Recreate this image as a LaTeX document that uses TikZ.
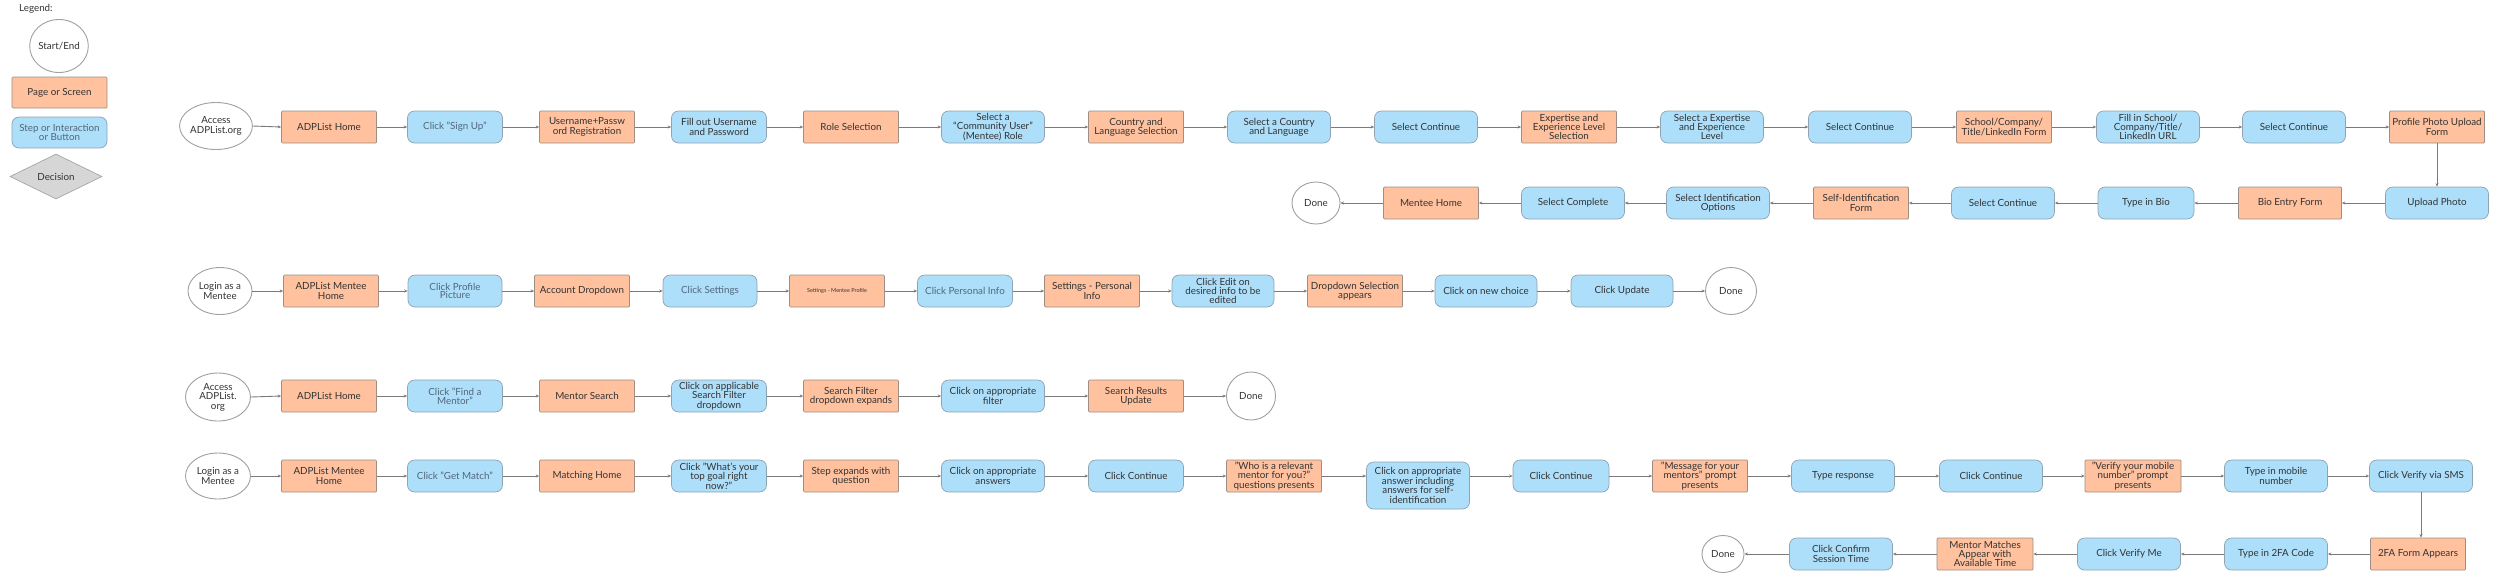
\documentclass[tikz,border=0pt]{standalone}
\usepackage{fontspec}
\setmainfont{Lato}
\usetikzlibrary{shapes.geometric,arrows.meta}
\definecolor{pagef}{HTML}{FFC19E}
\definecolor{pageb}{HTML}{9E8E84}
\definecolor{stepf}{HTML}{ADDEFA}
\definecolor{stepb}{HTML}{8FA3B1}
\definecolor{termb}{HTML}{A0A0A0}
\definecolor{decf}{HTML}{D6D6D6}
\definecolor{decb}{HTML}{A5A5A5}
\definecolor{linkc}{HTML}{7A7A7A}
\definecolor{txt}{HTML}{333333}
\definecolor{ltxt}{HTML}{52677A}
\tikzset{
  every node/.style={font=\fontsize{9.8}{9.4}\selectfont, text=txt, align=center, inner sep=0pt},
  page/.style={draw=pageb, fill=pagef, rounded corners=1pt, minimum height=32, minimum width=95, line width=0.7},
  stepbox/.style={draw=stepb, fill=stepf, rounded corners=7pt, minimum height=32, minimum width=103, line width=0.7},
  term/.style={ellipse, draw=termb, fill=white, line width=0.9, minimum width=66, minimum height=47},
  done/.style={ellipse, draw=termb, fill=white, line width=0.9, minimum width=50, minimum height=45},
  dec/.style={diamond, draw=decb, fill=decf, line width=0.7, minimum width=92, minimum height=45, aspect=2},
  lt/.style={text=ltxt},
  link/.style={draw=linkc, line width=0.9, -{Stealth[length=3.5pt, width=3pt]}}
}
\begin{document}
\begin{tikzpicture}[x=1pt, y=-1pt]
\useasboundingbox (0,0) rectangle (2500,579);
% legend
\node[anchor=west] (leg) at (19,9) {Legend:};
\node[term, minimum width=56, minimum height=53] (lstart) at (59,46) {Start/End};
\node[page, minimum height=31] (lpage) at (59.5,92.5) {Page or Screen};
\node[stepbox, lt, minimum width=95, minimum height=31] (lstep) at (59.5,132.5) {Step or Interaction\\or Button};
\node[dec] (ldec) at (56,176.5) {Decision};

% row 1
\node[term, minimum width=68] (a1) at (216,126) {Access\\ADPList.org};
\node[page] (a2) at (329,127) {ADPList Home};
\node[stepbox, lt, minimum width=95] (a3) at (455,127) {Click "Sign Up"};
\node[page] (a4) at (587,127) {Username+Passw\\ord Registration};
\node[stepbox, minimum width=95] (a5) at (719,127) {Fill out Username\\and Password};
\node[page] (a6) at (851,127) {Role Selection};
\node[stepbox] (a7) at (993,127) {Select a\\``Community User''\\(Mentee) Role};
\node[page] (a8) at (1136,127) {Country and\\Language Selection};
\node[stepbox] (a9) at (1279,127) {Select a Country\\and Language};
\node[stepbox] (a10) at (1426,127) {Select Continue};
\node[page] (a11) at (1569,127) {Expertise and\\Experience Level\\Selection};
\node[stepbox] (a12) at (1712,127) {Select a Expertise\\and Experience\\Level};
\node[stepbox] (a13) at (1860,127) {Select Continue};
\node[page] (a14) at (2004,127) {School/Company/\\Title/LinkedIn Form};
\node[stepbox] (a15) at (2148,127) {Fill in School/\\Company/Title/\\LinkedIn URL};
\node[stepbox] (a16) at (2294,127) {Select Continue};
\node[page] (a17) at (2437,127) {Profile Photo Upload\\Form};
\foreach \i/\j in {a1/a2,a2/a3,a3/a4,a4/a5,a5/a6,a6/a7,a7/a8,a8/a9,a9/a10,a10/a11,a11/a12,a12/a13,a13/a14,a14/a15,a15/a16,a16/a17}
  \draw[link] (\i.east) -- (\j.west);

% row 2
\node[stepbox] (b1) at (2437,203) {Upload Photo};
\node[page, minimum width=103] (b2) at (2290,203) {Bio Entry Form};
\node[stepbox, minimum width=96] (b3) at (2146,203) {Type in Bio};
\node[stepbox] (b4) at (2003,203) {Select Continue};
\node[page] (b5) at (1861,203) {Self-Identification\\Form};
\node[stepbox] (b6) at (1718,203) {Select Identification\\Options};
\node[stepbox] (b7) at (1573,203) {Select Complete};
\node[page] (b8) at (1431,203) {Mentee Home};
\node[done, minimum width=48, minimum height=42] (b9) at (1316,203) {Done};
\draw[link] (a17.south) -- (b1.north);
\foreach \i/\j in {b1/b2,b2/b3,b3/b4,b4/b5,b5/b6,b6/b7,b7/b8,b8/b9}
  \draw[link] (\i.west) -- (\j.east);

% row 3
\node[term, minimum width=64] (c1) at (220,291) {Login as a\\Mentee};
\node[page] (c2) at (331,291) {ADPList Mentee\\Home};
\node[stepbox, lt, minimum width=94, font=\fontsize{9.8}{5}\selectfont] (c3) at (455,291) {Click Profile\\Picture};
\node[page] (c4) at (582,291) {Account Dropdown};
\node[stepbox, lt, minimum width=94] (c5) at (710,291) {Click Settings};
\node[page, font=\fontsize{5.5}{6}\selectfont] (c6) at (837,291) {Settings - Mentee Profile};
\node[stepbox, lt, minimum width=95] (c7) at (965,291) {Click Personal Info};
\node[page] (c8) at (1092,291) {Settings - Personal\\Info};
\node[stepbox, minimum width=102] (c9) at (1223,291) {Click Edit on\\desired info to be\\edited};
\node[page] (c10) at (1355,291) {Dropdown Selection\\appears};
\node[stepbox, minimum width=102] (c11) at (1486,291) {Click on new choice};
\node[stepbox, minimum width=102] (c12) at (1622,291) {Click Update};
\node[done, minimum width=51, minimum height=47] (c13) at (1731,291) {Done};
\foreach \i/\j in {c1/c2,c2/c3,c3/c4,c4/c5,c5/c6,c6/c7,c7/c8,c8/c9,c9/c10,c10/c11,c11/c12,c12/c13}
  \draw[link] (\i.east) -- (\j.west);

% row 4
\node[term, minimum width=65, minimum height=48] (d1) at (218,397) {Access\\ADPList.\\org};
\node[page] (d2) at (329,396) {ADPList Home};
\node[stepbox, lt, minimum width=95] (d3) at (455,396) {Click "Find a\\Mentor"};
\node[page] (d4) at (587,396) {Mentor Search};
\node[stepbox, minimum width=95] (d5) at (719,396) {Click on applicable\\Search Filter\\dropdown};
\node[page] (d6) at (851,396) {Search Filter\\dropdown expands};
\node[stepbox] (d7) at (993,396) {Click on appropriate\\filter};
\node[page] (d8) at (1136,396) {Search Results\\Update};
\node[done, minimum width=49, minimum height=48] (d9) at (1251,396) {Done};
\foreach \i/\j in {d1/d2,d2/d3,d3/d4,d4/d5,d5/d6,d6/d7,d7/d8,d8/d9}
  \draw[link] (\i.east) -- (\j.west);

% row 5
\node[term, minimum width=65, minimum height=46] (e1) at (218,476) {Login as a\\Mentee};
\node[page] (e2) at (329,476) {ADPList Mentee\\Home};
\node[stepbox, lt, minimum width=95] (e3) at (455,476) {Click "Get Match"};
\node[page] (e4) at (587,476) {Matching Home};
\node[stepbox, minimum width=95] (e5) at (719,476) {Click "What's your\\top goal right\\now?"};
\node[page] (e6) at (851,476) {Step expands with\\question};
\node[stepbox] (e7) at (993,476) {Click on appropriate\\answers};
\node[stepbox, minimum width=95] (e8) at (1136,476) {Click Continue};
\node[page] (e9) at (1274,476) {"Who is a relevant\\mentor for you?"\\questions presents};
\node[stepbox, minimum height=47] (e10) at (1418,485.5) {Click on appropriate\\answer including\\answers for self-\\identification};
\node[stepbox, minimum width=96] (e11) at (1561,476) {Click Continue};
\node[page] (e12) at (1700,476) {"Message for your\\mentors" prompt\\presents};
\node[stepbox] (e13) at (1843,476) {Type response};
\node[stepbox] (e14) at (1991,476) {Click Continue};
\node[page, minimum width=96] (e15) at (2133,476) {"Verify your mobile\\number" prompt\\presents};
\node[stepbox] (e16) at (2276,476) {Type in mobile\\number};
\node[stepbox] (e17) at (2421,476) {Click Verify via SMS};
\foreach \i/\j in {e1/e2,e2/e3,e3/e4,e4/e5,e5/e6,e6/e7,e7/e8,e8/e9,e11/e12,e12/e13,e13/e14,e14/e15,e15/e16,e16/e17}
  \draw[link] (\i.east) -- (\j.west);
\draw[link] (e9.east) -- (e9.east -| e10.west);
\draw[link] (e10.east |- e11.west) -- (e11.west);

% row 6
\node[page] (f1) at (2418,554) {2FA Form Appears};
\node[stepbox] (f2) at (2276,554) {Type in 2FA Code};
\node[stepbox] (f3) at (2129,554) {Click Verify Me};
\node[page, minimum width=96] (f4) at (1985,554) {Mentor Matches\\Appear with\\Available Time};
\node[stepbox] (f5) at (1841,554) {Click Confirm\\Session Time};
\node[done, minimum width=42, minimum height=37] (f6) at (1723,554) {Done};
\draw[link] (e17.south) -- (e17.south |- f1.north);
\foreach \i/\j in {f1/f2,f2/f3,f3/f4,f4/f5,f5/f6}
  \draw[link] (\i.west) -- (\j.east);
\end{tikzpicture}
\end{document}
